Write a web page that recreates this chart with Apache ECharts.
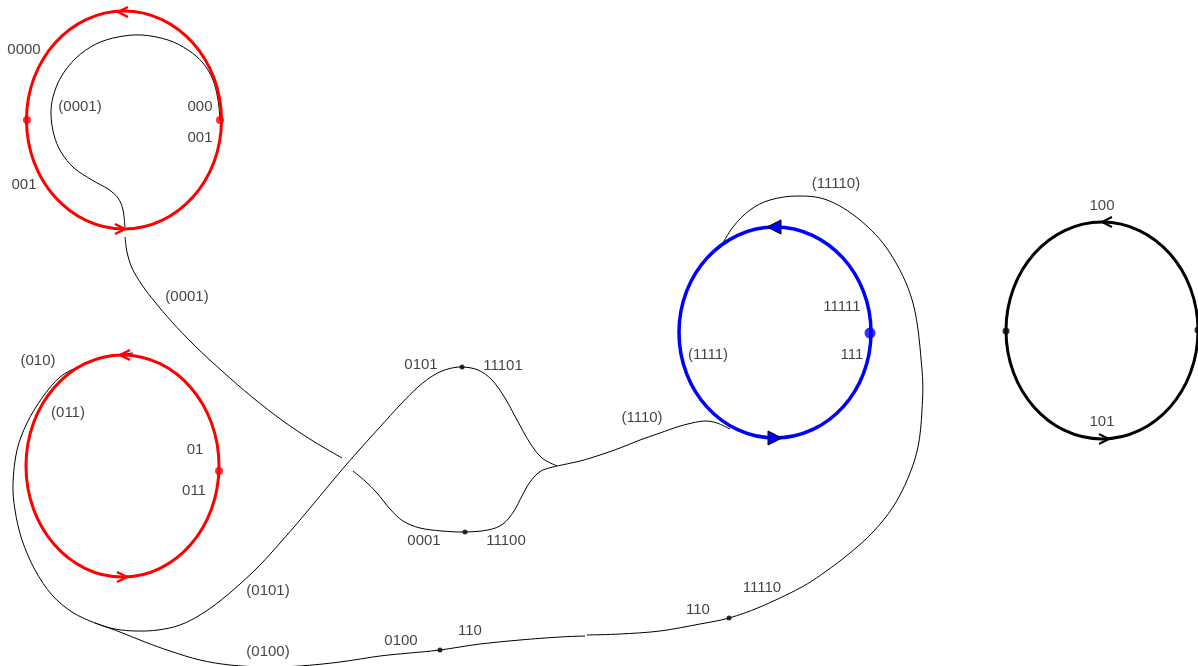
<!DOCTYPE html>
<html>
<head>
<meta charset="utf-8">
<script src="https://cdn.jsdelivr.net/npm/echarts@6/dist/echarts.min.js"></script>
<style>
  html, body { margin: 0; padding: 0; background: #fff; }
  #chart { width: 1198px; height: 666px; }
</style>
</head>
<body>
<div id="chart"></div>
<script>
// ---- Diagram data (positions in diagram units: x right, y down) ----
// Ellipses: [cx, cy, rx, ry]
var redLoops = [[124, 120, 97.5, 109], [122.5, 466, 96.5, 111]];
var blueLoops = [[775, 332.5, 96, 105.5]];
var blackLoops = [[1102, 330.5, 96, 108.5]];

// Arrow heads: [x, y, direction] (-1 = pointing left, 1 = pointing right)
var redArrows = [[118, 12, -1], [125, 229, 1], [120, 355, -1], [127, 577, 1]];
var blueArrows = [[767, 227, -1], [782, 438, 1]];
var blackArrows = [[1102, 222, -1], [1109, 439, 1]];

// Dots
var redDots = [[27, 120], [220, 120], [219, 471]];
var blueDots = [[870, 333]];
var blackBigDots = [[1006, 331], [1198, 330]];
var blackSmallDots = [[462, 367], [465, 532], [440, 650], [729, 618]];

// Thin connecting curves
var curve0001Top = [[220,120],[218,100],[213,80],[203,63],[188,50],[168,40],[142,35],[118,37],[96,44],[76,58],[61,77],[53,97],[51,115],[54,135],[61,152],[74,168],[92,180],[108,189],[118,198],[123,210],[125,227]];
var curve0001Mid = [[125,237],[127,252],[132,268],[142,285],[155,302],[172,322],[195,346],[222,371],[252,397],[283,421],[313,441],[342,458]];
var curve0001Low = [[353,471],[365,481],[377,493],[390,509],[403,521],[420,528],[442,531],[465,532],[488,530],[503,524],[514,511],[522,496],[530,482],[541,471],[557,466]];
var curve010 = [[133,353],[115,355],[100,358],[80,366],[60,377],[42,398],[27,423],[17,450],[13,483],[15,510],[22,540],[35,570],[52,595],[72,612],[95,623],[115,629],[136,631],[158,630],[180,625],[200,615],[220,601],[240,584],[260,565],[280,543],[300,520],[320,496],[340,472],[360,449],[380,427],[400,405],[418,387],[434,375],[448,369],[462,367],[478,370],[492,380],[505,398],[517,420],[530,443],[542,458],[557,466]];
var curve1110 = [[557,466],[580,461],[600,455],[620,448],[640,440],[660,433],[677,427],[692,423],[705,421],[717,423],[730,429]];
var curve0100a = [[95,623],[120,632],[145,642],[170,651],[200,660],[230,665],[265,667],[300,666],[340,662],[380,656],[410,653],[440,650],[480,644],[520,640],[560,637],[585,636]];
var curve0100b = [[587,635],[620,634],[660,631],[700,624],[729,618],[760,607],[800,588],[825,572],[850,553],[873,532],[893,507],[908,478],[918,447],[922,410],[922,370],[913,303],[890,253],[860,220],[827,200],[797,196],[770,200],[750,210],[733,227],[720,248]];

// Text labels: [text, x, y]
var labels = [
  ['0000', 24, 50], ['(0001)', 80, 107], ['000', 200, 107], ['001', 200, 138], ['001', 24, 185],
  ['(0001)', 187, 297], ['(010)', 38, 361], ['(011)', 68, 413], ['01', 195, 450], ['011', 194, 491],
  ['0101', 421, 365], ['11101', 503, 366], ['(1110)', 642, 418], ['(1111)', 708, 355],
  ['11111', 842, 307], ['111', 852, 355], ['(11110)', 836, 184], ['100', 1102, 206], ['101', 1102, 422],
  ['0001', 424, 541], ['11100', 506, 541], ['(0101)', 268, 591], ['11110', 762, 588],
  ['110', 698, 610], ['110', 470, 631], ['0100', 401, 641], ['(0100)', 268, 652]
];

var curves = [curve0001Top, curve0001Mid, curve0001Low, curve010, curve1110, curve0100a, curve0100b];

// ---- Rendering ----
var chart = echarts.init(document.getElementById('chart'), null, { renderer: 'canvas' });

// Smooth (Catmull-Rom) path through the curve's points, mapped with the axes' scales
function splineSeries(curveList) {
  return {
    type: 'custom', z: 2, clip: false, silent: true,
    data: curveList.map(function (c, i) { return [i]; }),
    renderItem: function (params, api) {
      var pts = curveList[params.dataIndex].map(function (p) { return api.coord(p); });
      var n = pts.length;
      var d = 'M' + pts[0][0] + ' ' + pts[0][1];
      for (var i = 0; i < n - 1; i++) {
        var p0 = pts[Math.max(i - 1, 0)], p1 = pts[i], p2 = pts[i + 1], p3 = pts[Math.min(i + 2, n - 1)];
        var c1x = p1[0] + (p2[0] - p0[0]) / 6, c1y = p1[1] + (p2[1] - p0[1]) / 6;
        var c2x = p2[0] - (p3[0] - p1[0]) / 6, c2y = p2[1] - (p3[1] - p1[1]) / 6;
        d += ' C' + c1x + ' ' + c1y + ' ' + c2x + ' ' + c2y + ' ' + p2[0] + ' ' + p2[1];
      }
      return {
        type: 'path',
        shape: { pathData: d },
        style: { fill: null, stroke: '#000', lineWidth: 1 }
      };
    }
  };
}

function ellipseSeries(data, color, width) {
  return {
    type: 'custom', data: data, z: 3, clip: false, silent: true,
    renderItem: function (params, api) {
      var c = api.coord([api.value(0), api.value(1)]);
      var s = api.size([api.value(2), api.value(3)]);
      return {
        type: 'ellipse',
        shape: { cx: c[0], cy: c[1], rx: Math.abs(s[0]), ry: Math.abs(s[1]) },
        style: { fill: null, stroke: color, lineWidth: width }
      };
    }
  };
}

function chevronSeries(data, color, width) {
  return {
    type: 'custom', data: data, z: 4, clip: false, silent: true,
    renderItem: function (params, api) {
      var p = api.coord([api.value(0), api.value(1)]);
      var d = api.value(2);
      return {
        type: 'polyline',
        shape: { points: [[p[0] - d * 10, p[1] - 5], [p[0], p[1]], [p[0] - d * 10, p[1] + 5]] },
        style: { fill: null, stroke: color, lineWidth: width, lineJoin: 'miter' }
      };
    }
  };
}

function triangleSeries(data, color) {
  return {
    type: 'custom', data: data, z: 4, clip: false, silent: true,
    renderItem: function (params, api) {
      var p = api.coord([api.value(0), api.value(1)]);
      var d = api.value(2);
      return {
        type: 'polygon',
        shape: { points: [[p[0], p[1]], [p[0] - d * 14, p[1] - 7], [p[0] - d * 14, p[1] + 7]] },
        style: { fill: color, stroke: '#000', lineWidth: 1 }
      };
    }
  };
}

function dotSeries(data, color, size) {
  return {
    type: 'scatter', data: data, symbol: 'circle', symbolSize: size, z: 5, clip: false, silent: true,
    itemStyle: { color: color }
  };
}

var option = {
  animation: false,
  backgroundColor: '#ffffff',
  grid: { left: 0, right: 0, top: 0, bottom: 0, containLabel: false },
  xAxis: { type: 'value', min: 0, max: 1198, show: false },
  yAxis: { type: 'value', min: 0, max: 666, inverse: true, show: false },
  series: [
    splineSeries(curves),
    ellipseSeries(redLoops, '#ff0000', 3),
    ellipseSeries(blueLoops, '#0000ff', 3.5),
    ellipseSeries(blackLoops, '#000000', 3),
    chevronSeries(redArrows, '#ff0000', 2.5),
    chevronSeries(blackArrows, '#000000', 2),
    triangleSeries(blueArrows, '#0000ff'),
    dotSeries(redDots, '#ff0000', 8),
    dotSeries(blueDots, '#0000ff', 11),
    dotSeries(blackBigDots, '#000000', 7),
    dotSeries(blackSmallDots, '#000000', 5),
    {
      type: 'scatter', z: 6, clip: false, silent: true, symbolSize: 0,
      data: labels.map(function (l) { return { name: l[0], value: [l[1], l[2]] }; }),
      label: {
        show: true, position: 'inside', formatter: function (p) { return p.name; },
        color: '#111', fontSize: 15, fontFamily: 'Liberation Sans, Arial, sans-serif'
      }
    }
  ]
};
chart.setOption(option);
</script>
</body>
</html>
